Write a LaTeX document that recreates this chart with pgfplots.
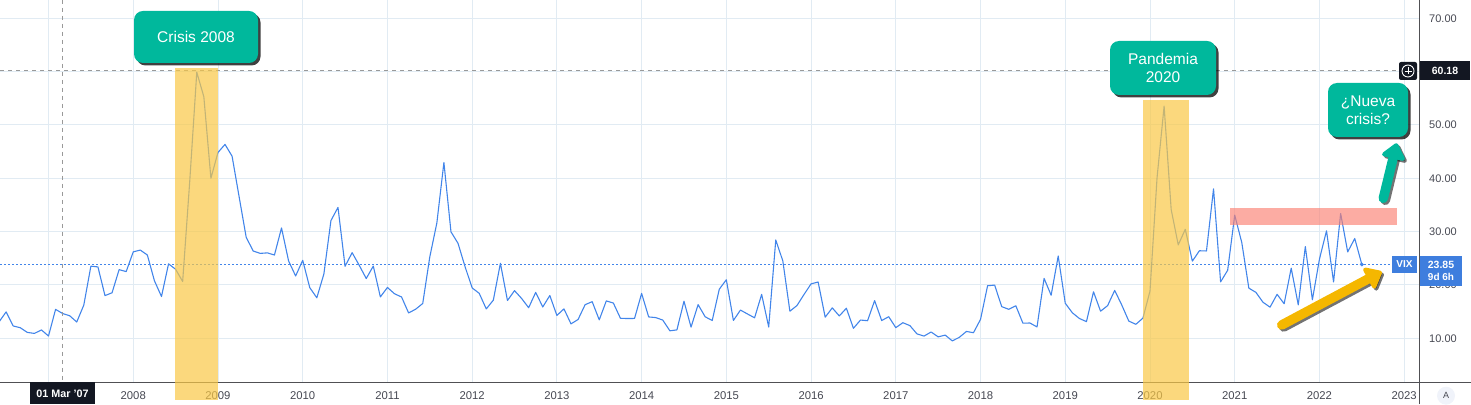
\documentclass[border=0pt]{standalone}
\usepackage{pgfplots}
\pgfplotsset{compat=1.18}
\usepackage{pgfplotstable}
\usepackage{fontspec}
\setmainfont{Liberation Sans}
\usetikzlibrary{arrows.meta,shadows}
\definecolor{vixblue}{RGB}{66,133,234}
\definecolor{gridc}{RGB}{225,235,243}
\definecolor{axisc}{RGB}{80,80,84}
\definecolor{lblc}{RGB}{70,72,82}
\definecolor{tealc}{RGB}{0,184,156}
\definecolor{yelc}{RGB}{249,200,70}
\definecolor{pinkc}{RGB}{250,128,114}
\definecolor{darkbox}{RGB}{19,23,34}
\definecolor{boxblue}{RGB}{62,126,222}
\definecolor{arrowyel}{RGB}{245,183,0}
\definecolor{btnc}{RGB}{240,243,250}

% month index: 0 = Jan 2007
\pgfplotstableread{
idx vix
-8 16.44
-7 13.08
-6 14.95
-5 12.31
-4 11.98
-3 11.10
-2 10.91
-1 11.56
0 10.42
1 15.42
2 14.64
3 14.22
4 13.05
5 16.23
6 23.52
7 23.38
8 18.00
9 18.53
10 22.87
11 22.50
12 26.20
13 26.54
14 25.61
15 20.79
16 17.83
17 23.95
18 22.94
19 20.65
20 39.39
21 59.89
22 55.28
23 40.00
24 44.84
25 46.35
26 44.14
27 36.50
28 28.92
29 26.35
30 25.92
31 26.01
32 25.61
33 30.69
34 24.51
35 21.68
36 24.62
37 19.50
38 17.59
39 22.05
40 32.07
41 34.54
42 23.50
43 26.05
44 23.70
45 21.20
46 23.54
47 17.75
48 19.53
49 18.35
50 17.74
51 14.75
52 15.45
53 16.52
54 25.25
55 31.62
56 42.96
57 29.96
58 27.80
59 23.40
60 19.44
61 18.43
62 15.50
63 17.15
64 24.06
65 17.08
66 18.93
67 17.47
68 15.73
69 18.60
70 15.87
71 18.02
72 14.28
73 15.51
74 12.70
75 13.52
76 16.30
77 16.86
78 13.45
79 17.01
80 16.60
81 13.75
82 13.70
83 13.72
84 18.41
85 14.00
86 13.88
87 13.41
88 11.40
89 11.57
90 16.95
91 12.09
92 16.31
93 14.03
94 13.33
95 19.20
96 20.97
97 13.34
98 15.29
99 14.55
100 13.84
101 18.23
102 12.12
103 28.43
104 24.50
105 15.07
106 16.13
107 18.21
108 20.20
109 20.55
110 13.95
111 15.70
112 14.19
113 15.63
114 11.87
115 13.42
116 13.29
117 17.06
118 13.33
119 14.04
120 11.99
121 12.92
122 12.37
123 10.82
124 10.41
125 11.18
126 10.26
127 10.59
128 9.51
129 10.18
130 11.28
131 11.04
132 13.54
133 19.85
134 19.97
135 15.93
136 15.43
137 16.09
138 12.83
139 12.86
140 12.12
141 21.23
142 18.07
143 25.42
144 16.57
145 14.78
146 13.71
147 13.12
148 18.71
149 15.08
150 16.12
151 18.98
152 16.24
153 13.22
154 12.62
155 13.78
156 18.84
157 40.11
158 53.54
159 34.15
160 27.51
161 30.43
162 24.46
163 26.41
164 26.37
165 38.02
166 20.57
167 22.75
168 33.09
169 27.95
170 19.40
171 18.61
172 16.76
173 15.83
174 18.24
175 16.48
176 23.14
177 16.26
178 27.19
179 17.22
180 24.83
181 30.15
182 20.56
183 33.40
184 26.19
185 28.71
186 23.85
}\vixdata

\begin{document}
\begin{tikzpicture}[x=1pt,y=1pt]
\begin{axis}[
  at={(0pt,22pt)}, anchor=south west,
  scale only axis, width=1419pt, height=382pt,
  xmin=-6.87, xmax=194.1, ymin=1.8, ymax=73.43,
  axis x line*=bottom, axis y line*=right,
  axis line style={draw=none},
  major tick length=0pt,
  xtick={0,12,24,36,48,60,72,84,96,108,120,132,144,156,168,180,192},
  xticklabels={,2008,2009,2010,2011,2012,2013,2014,2015,2016,2017,2018,2019,2020,2021,2022,2023},
  ytick={10,20,30,40,50,60,70},
  grid=major,
  major grid style={draw=gridc, line width=0.9pt},
  xticklabel style={font=\fontsize{11.3}{13}\selectfont, text=lblc, anchor=base, yshift=-17pt},
  yticklabel style={font=\fontsize{11}{13}\selectfont, text=lblc, anchor=west, inner sep=0pt, xshift=10pt,
    /pgf/number format/.cd, fixed, fixed zerofill, precision=2, assume math mode=true},
  clip=true,
]
\addplot[vixblue, line width=1.1pt, line join=round] table[x=idx, y=vix] {\vixdata};
\addplot[only marks, mark=*, mark size=1.8pt, vixblue] coordinates {(186,23.85)};
\end{axis}

% axis frame lines
\draw[axisc, line width=1pt] (0,22) -- (1471,22);
\draw[axisc, line width=1pt] (1419,0) -- (1419,404);

% crosshair and reference lines
\draw[gray!80, line width=0.9pt, dash pattern=on 4pt off 4pt] (62.5,404) -- (62.5,22);
\draw[gray!80, line width=0.9pt, dash pattern=on 4pt off 4pt] (0,334) -- (1399,334);
\draw[vixblue, line width=1pt, dash pattern=on 1.5pt off 2.5pt] (0,139.7) -- (1391,139.7);

% highlight rectangles
\fill[yelc, opacity=0.7] (175,4) rectangle (218,336);
\fill[yelc, opacity=0.7] (1143,4) rectangle (1189,304);
\fill[pinkc, opacity=0.65] (1230,179) rectangle (1397,196);

% callouts
\tikzset{callout/.style={fill=tealc, rounded corners=9pt, text=white,
  font=\fontsize{15.5}{18.5}\selectfont, align=center, inner sep=0pt,
  drop shadow={shadow xshift=2.5pt, shadow yshift=-2.5pt, fill=black, opacity=0.75}}}
\node[callout, minimum width=124pt, minimum height=52pt] at (196,367) {Crisis 2008};
\node[callout, minimum width=106pt, minimum height=54pt] at (1163,336) {Pandemia\\2020};
\node[callout, minimum width=80pt, minimum height=54pt] at (1368,294) {¿Nueva\\crisis?};

% arrows (with shadow)
\tikzset{bigarrow/.style={line width=9.5pt, line cap=round, -{Triangle[length=17pt,width=27pt,round]}}}
\draw[black, opacity=0.55, bigarrow] (1385.3,203.7) -- (1398.7,258.7);
\draw[tealc, bigarrow] (1383.3,205.7) -- (1396.7,260.7);
\draw[black, opacity=0.55, bigarrow] (1283.7,77) -- (1383.7,130.3);
\draw[arrowyel, bigarrow] (1281.7,79) -- (1381.7,132.3);

% price axis labels
\fill[darkbox, rounded corners=2pt] (1399,324) rectangle (1417,342);
\draw[white, line width=0.9pt] (1408,333) circle (6pt);
\draw[white, line width=0.9pt] (1404.5,333) -- (1411.5,333) (1408,329.5) -- (1408,336.5);
\fill[darkbox] (1420,324) rectangle (1470,343);
\node[text=white, font=\bfseries\fontsize{10.5}{12}\selectfont] at (1445,333.5) {60.18};

\fill[boxblue] (1392,131.3) rectangle (1417,148);
\node[text=white, font=\bfseries\fontsize{10}{12}\selectfont] at (1404.5,139.7) {VIX};
\fill[boxblue] (1420,118) rectangle (1462,148);
\node[text=white, font=\bfseries\fontsize{10.5}{12}\selectfont] at (1441,139) {23.85};
\node[text=white, font=\bfseries\fontsize{10}{12}\selectfont] at (1441,127) {9d 6h};

% crosshair date label
\fill[darkbox] (30,0) rectangle (95,22);
\node[text=white, font=\bfseries\fontsize{10.8}{12}\selectfont] at (62.5,10.5) {01 Mar '07};

% auto-scale button
\fill[btnc] (1446,8.3) circle (9pt);
\node[text=lblc, font=\fontsize{9}{10}\selectfont] at (1446,8.3) {A};

\pgfresetboundingbox
\path[use as bounding box] (0,0) rectangle (1471,404);
\end{tikzpicture}
\end{document}
